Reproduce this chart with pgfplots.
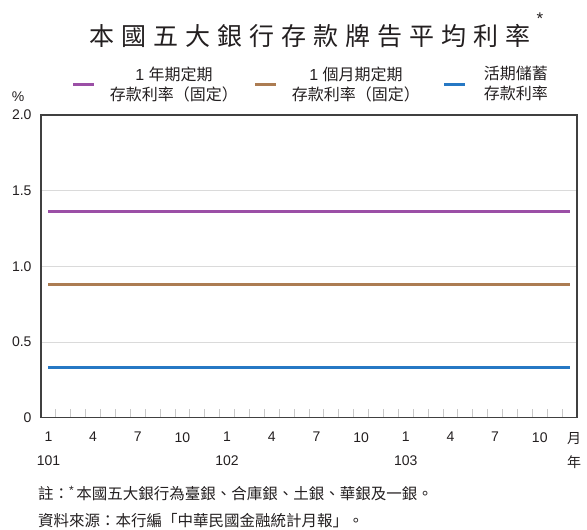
\documentclass[border=0pt]{standalone}
\usepackage{fontspec}
\setmainfont{Liberation Sans}
\newfontfamily\cjk{Noto Sans CJK TC}
\newfontfamily\cjktitle[LetterSpace=28]{Noto Sans CJK TC}
\usepackage{pgfplots}
\usepackage{pgfplotstable}
\pgfplotsset{compat=1.18}

\definecolor{rateoney}{RGB}{155,79,166}
\definecolor{rateonem}{RGB}{172,124,82}
\definecolor{ratesav}{RGB}{38,120,196}
\definecolor{axisgray}{RGB}{64,64,64}
\definecolor{gridgray}{RGB}{218,218,218}
\definecolor{tickgray}{RGB}{200,200,200}
\definecolor{txt}{RGB}{35,31,32}

% Monthly posted rates, 101/1 -- 103/12 (m = 0 is 101/1)
\pgfplotstableread{
m  oney  onem  sav
0  1.36  0.88  0.33
1  1.36  0.88  0.33
2  1.36  0.88  0.33
3  1.36  0.88  0.33
4  1.36  0.88  0.33
5  1.36  0.88  0.33
6  1.36  0.88  0.33
7  1.36  0.88  0.33
8  1.36  0.88  0.33
9  1.36  0.88  0.33
10 1.36  0.88  0.33
11 1.36  0.88  0.33
12 1.36  0.88  0.33
13 1.36  0.88  0.33
14 1.36  0.88  0.33
15 1.36  0.88  0.33
16 1.36  0.88  0.33
17 1.36  0.88  0.33
18 1.36  0.88  0.33
19 1.36  0.88  0.33
20 1.36  0.88  0.33
21 1.36  0.88  0.33
22 1.36  0.88  0.33
23 1.36  0.88  0.33
24 1.36  0.88  0.33
25 1.36  0.88  0.33
26 1.36  0.88  0.33
27 1.36  0.88  0.33
28 1.36  0.88  0.33
29 1.36  0.88  0.33
30 1.36  0.88  0.33
31 1.36  0.88  0.33
32 1.36  0.88  0.33
33 1.36  0.88  0.33
34 1.36  0.88  0.33
35 1.36  0.88  0.33
}\rates

\begin{document}
\begin{tikzpicture}[x=1pt,y=1pt]
\useasboundingbox (0,0) rectangle (587,530);

\begin{axis}[
  at={(41pt,112.3pt)}, anchor=south west,
  scale only axis, width=536pt, height=302.7pt,
  xmin=-0.5, xmax=35.5, ymin=0, ymax=2,
  axis line style={axisgray, line width=1.5pt},
  ytick={0,0.5,1,1.5,2},
  yticklabels={0,0.5,1.0,1.5,2.0},
  ytick pos=left, xtick pos=bottom,
  ymajorgrids, grid style={gridgray, line width=1pt},
  y tick style={draw=none},
  xtick={0,3,6,9,12,15,18,21,24,27,30,33,35.3},
  xticklabels={{1\\101},4,7,10,{1\\102},4,7,10,{1\\103},4,7,10,{{\cjk 月}\\{\cjk 年}}},
  major x tick style={draw=none},
  minor xtick={0.5,1.5,...,34.5},
  tick align=inside,
  minor tick length=9pt,
  minor tick style={tickgray, line width=0.8pt},
  xticklabel style={align=center, anchor=north, font=\fontsize{14}{24}\selectfont, text=txt, yshift=-11pt},
  yticklabel style={anchor=east, font=\fontsize{14}{14}\selectfont, text=txt, xshift=-6pt},
  legend style={
    draw=none, fill=none,
    at={(0.0578,1.1024)}, anchor=west,
    inner sep=0pt, outer sep=0pt,
    legend columns=3,
    font=\fontsize{16}{20}\selectfont, text=txt,
    cells={anchor=center, align=center},
    /tikz/column 1/.style={column sep=12pt},
    /tikz/column 2/.style={column sep=14pt},
    /tikz/column 3/.style={column sep=12pt},
    /tikz/column 4/.style={column sep=21pt},
    /tikz/column 5/.style={column sep=15pt},
  },
  legend image code/.code={\draw[#1, line width=3pt] (0pt,0pt) -- (21pt,0pt);},
]
\addplot[rateoney, line width=3pt] table[x=m, y=oney] {\rates};
\addlegendentry{1 {\cjk 年期定期}\\{\cjk 存款利率（固定）}}
\addplot[rateonem, line width=3pt] table[x=m, y=onem] {\rates};
\addlegendentry{1 {\cjk 個月期定期}\\{\cjk 存款利率（固定）}}
\addplot[ratesav, line width=3pt] table[x=m, y=sav] {\rates};
\addlegendentry{{\cjk 活期儲蓄}\\{\cjk 存款利率}}
\end{axis}

% title
\node[text=txt, inner sep=0pt] at (310,494)
  {\cjktitle\fontsize{25}{25}\selectfont 本國五大銀行存款牌告平均利率};
\node[text=txt, inner sep=0pt] at (540,511) {\fontsize{17}{17}\selectfont *};

% unit
\node[text=txt, inner sep=0pt] at (18,433) {\fontsize{14}{14}\selectfont \%};

% notes
\node[text=txt, inner sep=0pt, anchor=west] at (38,36)
  {\fontsize{15.5}{15.5}\selectfont{\cjk 註：}\raisebox{5pt}{\fontsize{12}{12}\selectfont *}\,{\cjk 本國五大銀行為臺銀、合庫銀、土銀、華銀及一銀。}};
\node[text=txt, inner sep=0pt, anchor=west] at (38,9)
  {\fontsize{15.5}{15.5}\selectfont\cjk 資料來源：本行編「中華民國金融統計月報」。};
\end{tikzpicture}
\end{document}
